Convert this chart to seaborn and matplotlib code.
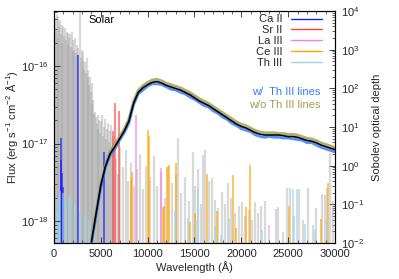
import numpy as np
import pandas as pd
import matplotlib
matplotlib.use("Agg")
import matplotlib.pyplot as plt
import seaborn as sns
from matplotlib.lines import Line2D
from matplotlib.ticker import LogLocator, MultipleLocator, NullFormatter

# spectrum (log10 flux, erg/s/cm2/A) on a 500 A grid
spec_wl = list(range(4000, 30001, 500))
black_log = [-18.27, -17.90, -17.54, -17.29, -17.13, -17.04, -16.94, -16.84, -16.71, -16.48,
             -16.34, -16.28, -16.24, -16.21, -16.20, -16.22, -16.25, -16.27, -16.29, -16.31,
             -16.34, -16.37, -16.41, -16.45, -16.48, -16.51, -16.55, -16.59, -16.63, -16.67,
             -16.71, -16.75, -16.78, -16.80, -16.83, -16.86, -16.88, -16.89, -16.89, -16.89,
             -16.89, -16.90, -16.91, -16.91, -16.92, -16.94, -16.96, -16.97, -16.99, -17.02,
             -17.04, -17.06, -17.08]
with_th_log = [-18.29, -17.93, -17.57, -17.31, -17.15, -17.07, -16.96, -16.86, -16.74, -16.50,
               -16.36, -16.31, -16.26, -16.23, -16.23, -16.24, -16.27, -16.30, -16.31, -16.34,
               -16.36, -16.40, -16.43, -16.47, -16.51, -16.53, -16.58, -16.61, -16.66, -16.69,
               -16.74, -16.77, -16.81, -16.83, -16.85, -16.89, -16.91, -16.92, -16.91, -16.92,
               -16.92, -16.93, -16.93, -16.94, -16.95, -16.96, -16.99, -16.99, -17.02, -17.05,
               -17.07, -17.09, -17.11]
without_th_log = [-18.24, -17.86, -17.51, -17.26, -17.10, -17.01, -16.91, -16.81, -16.68, -16.45,
                  -16.31, -16.25, -16.21, -16.18, -16.17, -16.19, -16.22, -16.24, -16.26, -16.28,
                  -16.31, -16.34, -16.38, -16.42, -16.45, -16.48, -16.52, -16.56, -16.60, -16.64,
                  -16.68, -16.72, -16.75, -16.77, -16.80, -16.83, -16.85, -16.86, -16.86, -16.86,
                  -16.87, -16.87, -16.88, -16.88, -16.89, -16.91, -16.93, -16.94, -16.96, -16.99,
                  -17.01, -17.03, -17.05]

# Sobolev optical depths of lines
grey_wl = [100, 200, 290, 380, 430, 520, 640, 730, 820, 900, 960, 1050, 1170, 1260, 1360, 1450,
           1530, 1620, 1710, 1800, 1890, 1980, 2060, 2150, 2240, 2330, 2420, 2500, 2590, 2780,
           2870, 2960, 3050, 3130, 3220, 3310, 3400, 3490, 3580, 3660, 3750, 3840, 3930, 4020,
           4110, 4200, 4290, 4380, 4470, 4560, 4650, 4750, 4850, 4950, 5050, 5150, 5250, 5350,
           5450, 5550, 5650, 5750, 5850, 5950, 6050, 6150, 6250, 6400,
           6600, 6800, 7100, 7400, 7690, 7900, 8200, 8500, 8900, 9200, 9500, 9800, 10300, 10700,
           11000, 11400, 11800, 12200, 12600, 13000, 13270, 13600, 14000, 14400, 14800, 15100,
           15400, 15700, 15940, 16120, 16500, 16830, 17190, 17500, 17900, 18300, 18600, 18900,
           19300, 19700, 20040, 20400, 20800, 21100, 21460, 21800, 22150, 22530, 23000, 23700,
           23950, 24410, 24910, 25200, 25600, 26190, 26600, 27150, 27600, 28000, 28580, 28930,
           29110, 29470, 29800]
grey_tau = [6500, 3000, 7800, 2000, 6900, 4000, 5800, 2500, 4300, 1500, 3800, 2200, 3600, 1800,
            2800, 1300, 2700, 2000, 2500, 1200, 2800, 900, 1800, 1000, 2000, 800, 1300, 700, 1100,
            9300, 600, 980, 500, 870, 300, 480, 250, 600, 200, 300, 120, 195, 80, 135, 40, 50,
            22, 25, 18, 12, 20, 9, 15, 7, 14, 20, 6, 10, 16, 5, 9, 13, 4, 8, 11, 3, 6, 3.5,
            1.5, 0.6, 3.0, 0.9, 2.5, 0.4, 1.2, 0.3, 0.8, 2.0, 0.25, 1.0, 0.5, 1.8,
            0.3, 0.7, 0.15, 0.9, 0.35, 0.6, 5.1, 0.2, 0.5, 0.12, 2.3, 0.3,
            0.8, 0.1, 1.9, 2.5, 0.4, 0.47, 0.13, 0.08, 0.21, 0.1, 0.35, 0.15,
            0.06, 0.09, 0.117, 0.05, 0.07, 0.04, 0.117, 0.06, 0.09, 0.12, 0.03, 0.076,
            0.085, 0.019, 0.27, 0.26, 0.05, 0.25, 0.04, 0.26, 0.03, 0.08, 0.19, 0.17,
            0.26, 2.1, 0.12]

ca2_wl = [720, 800, 880, 950, 2530, 5370]
ca2_tau = [5.1, 1.4, 0.64, 0.28, 740, 2.3]
sr2_wl = [6300, 6480, 6900]
sr2_tau = [8, 42, 26]
la3_wl = [8790, 11400]
la3_tau = [20, 0.88]
ce3_wl = [8190, 8330, 10000, 10100, 11600, 11710, 12060, 12310, 13060, 14530, 15050, 16370,
          17430, 19140, 19430, 20500, 20920, 25120, 28510, 29290]
ce3_tau = [0.48, 0.69, 8.3, 6.0, 0.087, 0.09, 0.94, 1.03, 1.19, 0.035, 0.059, 0.6,
           0.066, 0.57, 0.024, 0.083, 1.04, 0.09, 0.041, 0.36]
th3_wl = [330, 400, 600, 1000, 1300, 1570, 1710, 2270, 2800, 3300, 3700, 12920, 14340, 15160,
          15410, 17190, 17800, 18720, 22170, 25480, 25980, 26800, 27870, 29180]
th3_tau = [0.06, 0.15, 0.22, 0.2, 0.12, 0.157, 0.13, 0.096, 0.06, 0.05, 0.04, 0.071, 0.045, 0.039,
           0.25, 0.027, 0.016, 0.042, 0.022, 0.25, 0.25, 0.031, 0.022, 0.038]

ion_labels = ["Ca II", "Sr II", "La III", "Ce III", "Th III"]
ion_colors = ["#1a1aff", "#ff4040", "#ee82ee", "#ffa500", "#9fd3e3"]

spec = pd.DataFrame({
    "wl": spec_wl,
    "model": np.power(10.0, black_log),
    "with_th": np.power(10.0, with_th_log),
    "without_th": np.power(10.0, without_th_log),
})

sns.set_style("ticks")
plt.rcParams['font.family'] = ['Liberation Sans', 'DejaVu Sans']
plt.rcParams['mathtext.fontset'] = 'custom'
plt.rcParams['mathtext.rm'] = 'Liberation Sans'
plt.rcParams['mathtext.it'] = 'Liberation Sans:italic'
plt.rcParams['font.size'] = 8

fig = plt.figure(figsize=(3.99, 2.79), dpi=100)
ax1 = fig.add_axes([0.1353, 0.129, 0.7043, 0.8316])
ax2 = ax1.twinx()

# line optical depths (right axis)
ax2.set_yscale('log')
ax2.vlines(grey_wl, 1e-2, grey_tau, colors="#a0a0a0", lw=1.6, alpha=0.4)
ion_wls = [ca2_wl, sr2_wl, la3_wl, ce3_wl, th3_wl]
ion_taus = [ca2_tau, sr2_tau, la3_tau, ce3_tau, th3_tau]
for wls, taus, c in zip(ion_wls, ion_taus, ion_colors):
    ax2.vlines(wls, 1e-2, taus, colors=c, lw=1.1, alpha=0.8)
ax2.set_ylim(1e-2, 1e4)
ax2.set_ylabel("Sobolev optical depth", labelpad=6)
ax2.yaxis.set_major_locator(LogLocator(base=10, numticks=10))
ax2.yaxis.set_minor_locator(LogLocator(base=10, subs=np.arange(2, 10), numticks=10))
ax2.yaxis.set_minor_formatter(NullFormatter())
ax2.tick_params(direction='in', which='major', length=4, width=0.6, pad=4)
ax2.tick_params(direction='in', which='minor', length=2, width=0.5)

# spectra (left axis) drawn on top
ax1.set_zorder(ax2.get_zorder() + 1)
ax1.patch.set_visible(False)
sns.lineplot(data=spec, x="wl", y="without_th", ax=ax1, color="#a3a355", lw=1.9, alpha=0.85)
sns.lineplot(data=spec, x="wl", y="with_th", ax=ax1, color="#3a7bff", lw=1.9, alpha=0.85)
sns.lineplot(data=spec, x="wl", y="model", ax=ax1, color="black", lw=1.2)
ax1.set_yscale('log')
ax1.set_xlim(0, 30000)
ax1.set_ylim(5.2e-19, 5.13e-16)
ax1.xaxis.set_major_locator(MultipleLocator(5000))
ax1.xaxis.set_minor_locator(MultipleLocator(1000))
ax1.yaxis.set_minor_formatter(NullFormatter())
ax1.tick_params(direction='in', which='major', length=4, width=0.6, top=True, right=False, pad=4)
ax1.tick_params(direction='in', which='minor', length=2, width=0.5, top=True, right=False)
ax1.set_xlabel("Wavelength (Å)", labelpad=2)
ax1.set_ylabel("Flux (erg s$^{-1}$ cm$^{-2}$ Å$^{-1}$)", labelpad=1)

for ax in (ax1, ax2):
    for s in ax.spines.values():
        s.set_linewidth(0.8)
        s.set_color("black")

handles = [Line2D([0], [0], color=c, lw=1.0) for c in ion_colors]
ax1.legend(handles, ion_labels, loc='upper right', bbox_to_anchor=(0.954, 0.985),
           markerfirst=False, frameon=False, handlelength=2.8, handletextpad=0.8,
           labelspacing=0.08, borderpad=0, borderaxespad=0, fontsize=8)

ax1.text(0.947, 0.651, "w/  Th III lines", color="#3a7bff", ha='right', va='center',
         transform=ax1.transAxes, fontsize=8)
ax1.text(0.947, 0.596, "w/o Th III lines", color="#a0a050", ha='right', va='center',
         transform=ax1.transAxes, fontsize=8)
ax1.text(0.121, 0.961, "Solar", color="black", ha='left', va='center',
         transform=ax1.transAxes, fontsize=8)

fig.savefig("out.png", dpi=100)
